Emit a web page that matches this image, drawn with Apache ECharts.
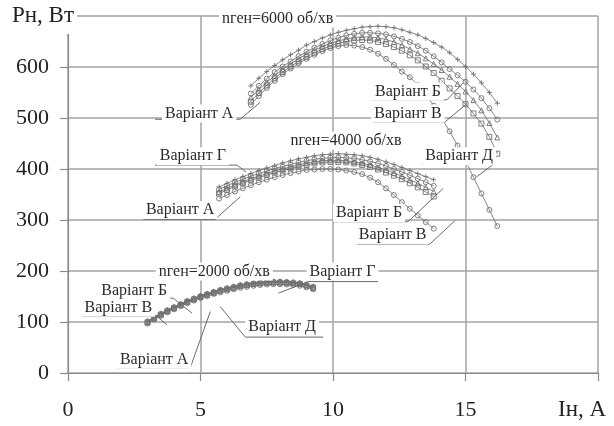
<!DOCTYPE html>
<html>
<head>
<meta charset="utf-8">
<script src="https://cdn.jsdelivr.net/npm/echarts@6/dist/echarts.min.js"></script>
<style>
  html, body { margin: 0; padding: 0; background: #fff; }
  #chart { width: 614px; height: 426px; }
</style>
</head>
<body>
<div id="chart"></div>
<script>
// Axis extents (load current, A / load power, W)
const xTicksMax = 20;
const yTicksMax = 700;

// n = 6000 rpm
const x6000 = [6.9, 7.2, 7.5, 7.8, 8.1, 8.4, 8.7, 9.0, 9.3, 9.6, 9.9, 10.2, 10.5, 10.8, 11.1, 11.4,
               11.7, 12.0, 12.3, 12.6, 12.9, 13.2, 13.5, 13.8, 14.1, 14.4, 14.7, 15.0, 15.3, 15.6, 15.9, 16.2];
const p6000_G = [563, 578, 591, 603, 614, 624, 633, 643, 650, 657, 663, 668, 672, 675, 678, 679,
                 680, 679, 677, 673, 668, 663, 656, 648, 639, 628, 615, 601, 586, 569, 550, 529];
const p6000_B = [548, 563, 577, 590, 601, 611, 621, 630, 638, 645, 652, 657, 662, 665, 667, 667,
                 666, 664, 660, 655, 649, 641, 632, 621, 609, 596, 584, 571, 556, 539, 519, 497];
const p6000_V = [540, 556, 570, 583, 595, 606, 616, 625, 633, 640, 646, 651, 655, 658, 659, 659,
                 657, 654, 649, 643, 635, 627, 617, 606, 594, 581, 567, 552, 535, 515, 490, 462];
const p6000_D = [532, 549, 564, 578, 590, 601, 611, 620, 628, 635, 641, 646, 650, 652, 653, 652,
                 649, 645, 639, 632, 623, 613, 601, 588, 573, 558, 543, 527, 509, 489, 463, 430];
const p6000_A = [526, 543, 559, 573, 586, 597, 607, 616, 624, 631, 637, 641, 643, 642, 639, 634,
                 626, 616, 604, 591, 580, 565, 546, 524, 500, 474, 446, 416, 384, 352, 320, 288];

// n = 4000 rpm
const x4000 = [5.7, 6.0, 6.3, 6.6, 6.9, 7.2, 7.5, 7.8, 8.1, 8.4, 8.7, 9.0, 9.3, 9.6,
               9.9, 10.2, 10.5, 10.8, 11.1, 11.4, 11.7, 12.0, 12.3, 12.6, 12.9, 13.2, 13.5, 13.8];
const p4000_G = [365, 372, 379, 385, 391, 397, 402, 407, 412, 416, 420, 423, 426, 428,
                 429, 430, 429, 428, 426, 423, 419, 414, 409, 403, 397, 391, 385, 379];
const p4000_B = [360, 367, 374, 380, 386, 391, 396, 401, 405, 409, 413, 416, 419, 421,
                 422, 423, 422, 421, 418, 415, 411, 406, 400, 394, 388, 381, 374, 367];
const p4000_V = [355, 362, 369, 375, 381, 386, 391, 396, 400, 404, 408, 411, 414, 416,
                 417, 417, 416, 414, 411, 408, 403, 398, 392, 386, 379, 372, 364, 356];
const p4000_D = [352, 359, 366, 372, 378, 383, 388, 393, 397, 401, 405, 408, 411, 413,
                 414, 414, 413, 411, 408, 404, 399, 393, 387, 380, 372, 364, 355, 346];
const p4000_A = [342, 349, 356, 362, 368, 374, 379, 384, 388, 392, 395, 398, 399, 400,
                 400, 399, 397, 394, 390, 383, 374, 362, 349, 335, 322, 309, 296, 283];

// n = 2000 rpm
const x2000 = [3.0, 3.25, 3.5, 3.75, 4.0, 4.25, 4.5, 4.75, 5.0, 5.25, 5.5, 5.75, 6.0,
               6.25, 6.5, 6.75, 7.0, 7.25, 7.5, 7.75, 8.0, 8.25, 8.5, 8.75, 9.0, 9.25];
const p2000_G = [102, 110, 117, 124, 130, 136, 142, 147, 152, 156, 160, 164, 167,
                 170, 173, 175, 177, 178.5, 179.5, 180, 180, 179.5, 178.5, 177, 174, 170];
const p2000_B = [101, 109, 116, 123, 129, 135, 141, 146, 151, 155, 159, 163, 166,
                 169, 172, 174, 176, 177.5, 178.5, 179, 179, 178.5, 177.5, 176, 173, 169];
const p2000_V = [100, 108, 115, 122, 128, 134, 140, 145, 150, 154, 158, 162, 165,
                 168, 171, 173, 175, 176.5, 177.5, 178, 178, 177.5, 176.5, 175, 172, 168];
const p2000_D = [99, 107, 114, 121, 127, 133, 139, 144, 149, 153, 157, 161, 164,
                 167, 170, 172, 174, 175.5, 176.5, 177, 177, 176.5, 175.5, 174, 171, 167];
const p2000_A = [97, 105, 112, 119, 125, 131, 137, 142, 147, 151, 155, 158, 161,
                 164, 167, 169, 171, 172.5, 173.5, 174, 174, 173.5, 172.5, 171, 168, 164];

// Callout labels: text centre, underline [from, to, level], leader [side, tipX, tipY]
const annotations = [
  { text: 'nген=6000 об/хв', x: 7.91, y: 695 },
  { text: 'Варіант А', x: 4.95, y: 509, ul: [3.29, 6.50, 497.5], leader: ['r', 7.25, 530.8] },
  { text: 'Варіант Б', x: 12.83, y: 552, ul: [11.47, 14.30, 535.7], leader: ['r', 14.91, 568.4] },
  { text: 'Варіант В', x: 12.83, y: 509, ul: [11.51, 14.23, 492.3], leader: ['r', 15.05, 528.3] },
  { text: 'Варіант Д', x: 14.76, y: 425, ul: [13.35, 16.05, 409.3], leader: ['r', 15.42, 384.7] },
  { text: 'nген=4000 об/хв', x: 10.49, y: 456 },
  { text: 'Варіант Г', x: 4.71, y: 425, ul: [3.29, 6.38, 407.6], leader: ['r', 6.72, 393.9] },
  { text: 'Варіант А', x: 4.23, y: 319.5, ul: [2.84, 5.55, 301.3], leader: ['r', 6.50, 345.5] },
  { text: 'Варіант Б', x: 11.36, y: 313.7, ul: [10.0, 12.83, 296.6], leader: ['r', 14.16, 362] },
  { text: 'Варіант В', x: 12.25, y: 270.6, ul: [10.9, 13.66, 253], leader: ['r', 14.6, 298.6] },
  { text: 'nген=2000 об/хв', x: 5.52, y: 199 },
  { text: 'Варіант Г', x: 10.36, y: 199, ul: [9.07, 11.70, 179.2], leader: ['l', 7.94, 156.5] },
  { text: 'Варіант Б', x: 2.50, y: 161, ul: [1.14, 3.97, 146.7], leader: ['r', 4.68, 117.4] },
  { text: 'Варіант В', x: 1.90, y: 127.8, ul: [0.53, 3.36, 110.7], leader: ['r', 3.73, 94.5] },
  { text: 'Варіант А', x: 3.25, y: 26, ul: [1.85, 4.61, 9.8], leader: ['r', 5.37, 120.5] },
  { text: 'Варіант Д', x: 8.08, y: 90.6, ul: [6.69, 9.63, 70.4], leader: ['l', 5.74, 130.3] }
];

const SERIF = '"Liberation Serif", "DejaVu Serif", serif';
const CURVE = '#6a6a6a';
const MARK = '#727272';
const CROSS = 'path://M0,5 L10,5 M5,0 L5,10';

function zip(xs, ys) { return xs.map((x, i) => [x, ys[i]]); }

function curve(name, xs, ys, symbol, size) {
  return {
    name: name,
    type: 'line',
    data: zip(xs, ys),
    symbol: symbol,
    symbolSize: size || 5,
    showAllSymbol: true,
    smooth: false,
    silent: true,
    z: 3,
    lineStyle: { color: CURVE, width: 0.8 },
    itemStyle: { color: 'rgba(255,255,255,0)', borderColor: MARK, borderWidth: 0.9 }
  };
}

const chart = echarts.init(document.getElementById('chart'), null, { renderer: 'canvas' });

const option = {
  animation: false,
  backgroundColor: '#fff',
  grid: { left: 68, right: 16, top: 16, bottom: 53, containLabel: false },
  xAxis: {
    type: 'value', min: 0, max: xTicksMax, interval: 5,
    axisLine: { show: true, onZero: false, lineStyle: { color: '#8a8a8a', width: 1.2 } },
    axisTick: { show: true, inside: false, length: 8, lineStyle: { color: '#8a8a8a', width: 1.2 } },
    splitLine: { show: true, lineStyle: { color: '#a3a3a3', width: 1.5 } },
    axisLabel: {
      margin: 26, color: '#222', fontFamily: SERIF, fontSize: 22,
      formatter: v => (v === xTicksMax ? '' : String(v))
    }
  },
  yAxis: {
    type: 'value', min: 0, max: yTicksMax, interval: 100,
    axisLine: { show: true, onZero: false, lineStyle: { color: '#8a8a8a', width: 1.2 } },
    axisTick: { show: true, inside: false, length: 8, lineStyle: { color: '#8a8a8a', width: 1.2 } },
    splitLine: { show: true, lineStyle: { color: '#a3a3a3', width: 1.5 } },
    axisLabel: {
      margin: 19, color: '#222', fontFamily: SERIF, fontSize: 22,
      formatter: v => (v === yTicksMax ? '' : String(v))
    }
  },
  graphic: [
    {
      type: 'text', left: 12, top: 4, z: 100,
      style: { text: 'Pн, Вт', font: '23px ' + SERIF, fill: '#222',
               backgroundColor: '#fff', padding: [0, 3, 7, 0] }
    },
    {
      type: 'text', left: 558, top: 398, z: 100,
      style: { text: 'Iн, A', font: '23px ' + SERIF, fill: '#222' }
    }
  ],
  series: [
    curve('6000 Г', x6000, p6000_G, CROSS, 5),
    curve('6000 Б', x6000, p6000_B, 'circle', 5),
    curve('6000 В', x6000, p6000_V, 'triangle', 5),
    curve('6000 Д', x6000, p6000_D, 'rect', 5),
    curve('6000 А', x6000, p6000_A, 'circle', 5),
    curve('4000 Г', x4000, p4000_G, CROSS, 5),
    curve('4000 Б', x4000, p4000_B, 'circle', 5),
    curve('4000 В', x4000, p4000_V, 'triangle', 5),
    curve('4000 Д', x4000, p4000_D, 'rect', 5),
    curve('4000 А', x4000, p4000_A, 'circle', 5),
    curve('2000 Г', x2000, p2000_G, CROSS, 5),
    curve('2000 Б', x2000, p2000_B, 'circle', 5),
    curve('2000 В', x2000, p2000_V, 'triangle', 5),
    curve('2000 Д', x2000, p2000_D, 'rect', 5),
    curve('2000 А', x2000, p2000_A, 'circle', 5),
    {
      name: 'callouts',
      type: 'custom',
      silent: true,
      z: 20,
      clip: false,
      data: annotations.map(a => [a.x, a.y]),
      encode: { x: 0, y: 1 },
      renderItem: function (params, api) {
        const a = annotations[params.dataIndex];
        const c = api.coord([a.x, a.y]);
        const kids = [];
        const lineStyle = { stroke: '#6a6a6a', lineWidth: 1 };
        if (a.ul) {
          const p1 = api.coord([a.ul[0], a.ul[2]]);
          const p2 = api.coord([a.ul[1], a.ul[2]]);
          kids.push({ type: 'line', shape: { x1: p1[0], y1: p1[1], x2: p2[0], y2: p2[1] }, style: lineStyle });
          if (a.leader) {
            const from = a.leader[0] === 'r' ? p2 : p1;
            const tip = api.coord([a.leader[1], a.leader[2]]);
            kids.push({ type: 'line', shape: { x1: from[0], y1: from[1], x2: tip[0], y2: tip[1] }, style: lineStyle });
          }
        }
        kids.push({
          type: 'text',
          x: c[0], y: c[1],
          style: {
            text: a.text, align: 'center', verticalAlign: 'middle',
            font: '16px ' + SERIF, fill: '#2a2a2a',
            backgroundColor: '#fff', padding: [1, 3, 1, 3]
          }
        });
        return { type: 'group', children: kids };
      }
    }
  ]
};

chart.setOption(option);
</script>
</body>
</html>
